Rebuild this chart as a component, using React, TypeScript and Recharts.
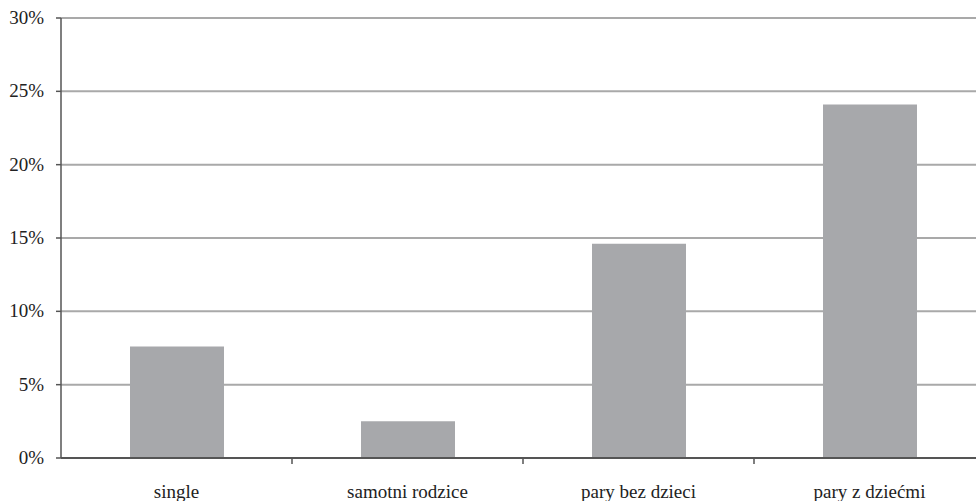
import { BarChart, Bar, XAxis, YAxis, CartesianGrid } from "recharts";

const categories = ["single", "samotni rodzice", "pary bez dzieci", "pary z dziećmi"];
const shares = [7.6, 2.5, 14.6, 24.1];
const yTicks = [0, 5, 10, 15, 20, 25, 30];

const data = categories.map((name, i) => ({ name, value: shares[i] }));

const FONT = "Liberation Serif, Times New Roman, DejaVu Serif, serif";
const AXIS = "#555555";
const STEP = 231; // width of one category band

function CategoryTick(props: any) {
  const { x, y, payload, index } = props;
  return (
    <g>
      {index > 0 && (
        <line x1={x - STEP / 2} x2={x - STEP / 2} y1={y} y2={y + 6} stroke={AXIS} strokeWidth={1.5} />
      )}
      <text x={x} y={y + 40} textAnchor="middle" fill="#222" style={{ fontSize: 19, fontFamily: FONT }}>
        {payload.value}
      </text>
    </g>
  );
}

function ValueTick(props: any) {
  const { x, y, payload } = props;
  return (
    <text x={x} y={y} dy={6} textAnchor="end" fill="#222" style={{ fontSize: 19, fontFamily: FONT }}>
      {`${payload.value}%`}
    </text>
  );
}

export default function App() {
  return (
    <div style={{ position: "absolute", left: 0, top: 0, background: "#fff" }}>
      <BarChart
        width={1000}
        height={501}
        data={data}
        margin={{ top: 18, right: 15, bottom: 0, left: 0 }}
        barSize={94}
      >
        <CartesianGrid vertical={false} stroke="#a9a9a9" strokeWidth={2} />
        <XAxis
          dataKey="name"
          height={43}
          tickLine={false}
          tickSize={0}
          tickMargin={0}
          axisLine={{ stroke: AXIS, strokeWidth: 2 }}
          tick={<CategoryTick />}
          interval={0}
        />
        <YAxis
          width={61}
          domain={[0, 30]}
          ticks={yTicks}
          tickSize={5}
          tickMargin={12}
          axisLine={{ stroke: AXIS, strokeWidth: 1.5 }}
          tickLine={{ stroke: AXIS, strokeWidth: 1.5 }}
          tick={<ValueTick />}
        />
        <Bar dataKey="value" fill="#a7a8ab" isAnimationActive={false} />
      </BarChart>
    </div>
  );
}
